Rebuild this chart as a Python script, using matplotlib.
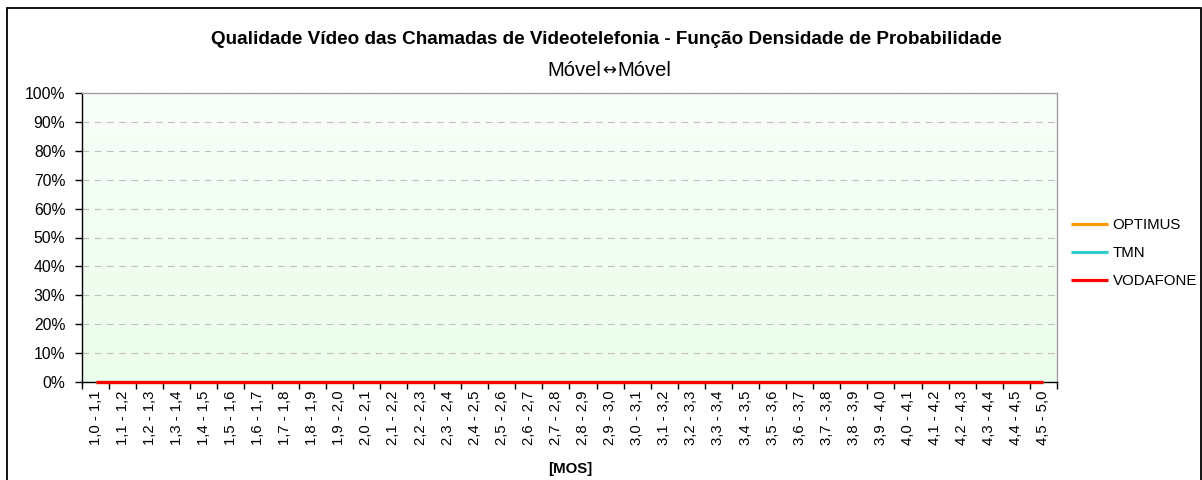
import numpy as np
import matplotlib
matplotlib.use('Agg')
import matplotlib.pyplot as plt
from matplotlib.patches import Rectangle
from matplotlib.ticker import PercentFormatter, FixedLocator

plt.rcParams['font.family'] = ['Liberation Sans', 'DejaVu Sans']

# Intervalos MOS
categorias = [
    "1,0 - 1,1", "1,1 - 1,2", "1,2 - 1,3", "1,3 - 1,4", "1,4 - 1,5", "1,5 - 1,6",
    "1,6 - 1,7", "1,7 - 1,8", "1,8 - 1,9", "1,9 - 2,0", "2,0 - 2,1", "2,1 - 2,2",
    "2,2 - 2,3", "2,3 - 2,4", "2,4 - 2,5", "2,5 - 2,6", "2,6 - 2,7", "2,7 - 2,8",
    "2,8 - 2,9", "2,9 - 3,0", "3,0 - 3,1", "3,1 - 3,2", "3,2 - 3,3", "3,3 - 3,4",
    "3,4 - 3,5", "3,5 - 3,6", "3,6 - 3,7", "3,7 - 3,8", "3,8 - 3,9", "3,9 - 4,0",
    "4,0 - 4,1", "4,1 - 4,2", "4,2 - 4,3", "4,3 - 4,4", "4,4 - 4,5", "4,5 - 5,0",
]

optimus = [0, 0, 0, 0, 0, 0, 0, 0, 0, 0, 0, 0, 0, 0, 0, 0, 0, 0,
           0, 0, 0, 0, 0, 0, 0, 0, 0, 0, 0, 0, 0, 0, 0, 0, 0, 0]
tmn = [0, 0, 0, 0, 0, 0, 0, 0, 0, 0, 0, 0, 0, 0, 0, 0, 0, 0,
       0, 0, 0, 0, 0, 0, 0, 0, 0, 0, 0, 0, 0, 0, 0, 0, 0, 0]
vodafone = [0, 0, 0, 0, 0, 0, 0, 0, 0, 0, 0, 0, 0, 0, 0, 0, 0, 0,
            0, 0, 0, 0, 0, 0, 0, 0, 0, 0, 0, 0, 0, 0, 0, 0, 0, 0]

series = [("OPTIMUS", optimus, '#FF9900'),
          ("TMN", tmn, '#33CCCC'),
          ("VODAFONE", vodafone, '#FF0000')]

W, H = 1202, 480
fig = plt.figure(figsize=(W / 100, H / 100), dpi=100)
ax = fig.add_axes([82 / W, 1 - 382 / H, (1057 - 82) / W, (382 - 93) / H])

# fundo em degradê verde claro
grad = np.linspace(0, 1, 100).reshape(-1, 1)
cmap = matplotlib.colors.LinearSegmentedColormap.from_list('bg', ['#F8FFF8', '#EBFDEB'])
ax.imshow(grad, cmap=cmap, aspect='auto', extent=(0, 1, 0, 1),
          transform=ax.transAxes, zorder=0)

x = np.arange(len(categorias))
for nome, vals, cor in series:
    ax.plot(x, vals, color=cor, linewidth=2.3, label=nome, zorder=3, clip_on=False,
            solid_capstyle='butt')

ax.set_xlim(-0.5, len(categorias) - 0.5)
ax.set_ylim(0, 1)
ax.set_yticks(np.arange(0, 1.01, 0.1))
ax.yaxis.set_major_formatter(PercentFormatter(1.0, decimals=0))
ax.grid(axis='y', color='#C0C0C0', linestyle=(0, (6, 5)), linewidth=0.8, zorder=1)

ax.set_xticks(x)
ax.set_xticklabels(categorias, rotation=90, fontsize=10.7)
ax.xaxis.set_minor_locator(FixedLocator(np.arange(-0.5, len(categorias), 1.0)))
ax.tick_params(axis='x', which='major', length=0, pad=6)
ax.tick_params(axis='x', which='minor', length=5, width=1, direction='out')
ax.tick_params(axis='y', length=5, width=1, direction='out', labelsize=11.3, pad=7)

for lado in ['left', 'bottom']:
    ax.spines[lado].set_color('black')
    ax.spines[lado].set_linewidth(1)
for lado in ['top', 'right']:
    ax.spines[lado].set_color('#A0A0A0')
    ax.spines[lado].set_linewidth(1)

fig.text(606 / W, 1 - 39 / H, "Qualidade Vídeo das Chamadas de Videotelefonia - Função Densidade de Probabilidade",
         ha='center', va='center', fontsize=13.6, fontweight='bold')
# subtítulo em três partes para a seta ficar com largura parecida
fig.text(601 / W, 1 - 70 / H, "Móvel", ha='right', va='center', fontsize=14.5)
fig.text(609 / W, 1 - 71 / H, "↔", ha='center', va='center', fontsize=12, family='DejaVu Sans')
fig.text(617 / W, 1 - 70 / H, "Móvel", ha='left', va='center', fontsize=14.5)
fig.text(570 / W, 1 - 469 / H, "[MOS]", ha='center', va='center', fontsize=10.8, fontweight='bold')

fig.legend(loc='center left', bbox_to_anchor=(1071 / W, 1 - 253 / H), frameon=False,
           fontsize=10.8, handlelength=2.47, handletextpad=0.3, labelspacing=0.93,
           borderpad=0, borderaxespad=0)

# moldura do gráfico
fig.patches.append(Rectangle((7 / W, -0.05), (1200.5 - 7) / W, 1.05 - 8 / H,
                             transform=fig.transFigure, fill=False,
                             edgecolor='black', linewidth=1.3))

fig.savefig('out.png', dpi=100)
